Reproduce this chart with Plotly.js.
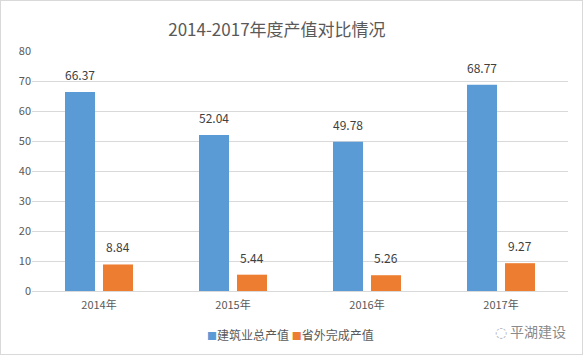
<!DOCTYPE html>
<html><head><meta charset="utf-8">
<script src="https://cdn.plot.ly/plotly-3.0.1.min.js"></script>
<style>html,body{margin:0;padding:0;background:#fff}#wrap{position:relative;width:583px;height:355px}#chart{width:583px;height:355px}#frame{position:absolute;left:0;top:0;width:581px;height:353px;border:1px solid #d9d9d9;pointer-events:none}</style>
</head><body><div id="wrap"><div id="chart"></div><div id="frame"></div></div>
<script>
const categories = ['2014年','2015年','2016年','2017年'];
const totalOutput = [66.37, 52.04, 49.78, 68.77];
const outsideOutput = [8.84, 5.44, 5.26, 9.27];
const seriesNames = ['建筑业总产值','省外完成产值'];
const seriesColors = ['#5B9BD5','#ED7D31'];
const yTicks = [0,10,20,30,40,50,60,70,80];

const font = '"Noto Sans CJK SC", "Microsoft YaHei", sans-serif';
const traces = [
  {type:'bar', name:seriesNames[0], x:categories, y:totalOutput, marker:{color:seriesColors[0]}, hoverinfo:'none'},
  {type:'bar', name:seriesNames[1], x:categories, y:outsideOutput, marker:{color:seriesColors[1]}, hoverinfo:'none'}
];
const annotations = [];
[totalOutput, outsideOutput].forEach((vals, si) => {
  vals.forEach((v, i) => {
    annotations.push({x:categories[i], y:v, xref:'x', yref:'y', text:v.toFixed(2), showarrow:false,
      xshift: si===0 ? -19 : 19, yanchor:'bottom', yshift:7, font:{family:font, size:12, color:'#404040'}});
  });
});
// legend drawn as text entries
const legendText = seriesNames.map((n, i) => '<span style="color:' + seriesColors[i] + ';font-size:10px">■</span>' + n).join(' ');
annotations.push({xref:'paper', yref:'paper', x:0.322, y:-0.183, xanchor:'left', yanchor:'middle', showarrow:false,
  text:legendText, font:{family:font, size:12, color:'#595959'}});
annotations.push({xref:'paper', yref:'paper', x:1.0, y:-0.165, xanchor:'right', yanchor:'middle', showarrow:false,
  text:'平湖建设', font:{family:font, size:14, color:'#8a8a8a'}});
annotations.push({xref:'paper', yref:'paper', x:0.875, y:-0.17, xanchor:'center', yanchor:'middle', showarrow:false,
  text:'◌', font:{family:'DejaVu Sans', size:14, color:'#b0b0b0'}});
const layout = {
  width:583, height:355,
  margin:{l:32, r:15, t:51, b:64},
  paper_bgcolor:'#fff', plot_bgcolor:'#fff',
  title:{text:'2014-2017年度产值对比情况', x:0.475, xanchor:'center', y:0.915, yanchor:'middle', font:{family:font, size:17, color:'#595959'}},
  barmode:'group', bargap:0.433, bargroupgap:0.21,
  showlegend:false,
  xaxis:{type:'category', showgrid:false, showline:false, ticks:'', ticklabelstandoff:6, tickfont:{family:font, size:11, color:'#595959'}, automargin:false},
  yaxis:{range:[0,80], tickvals:yTicks, showgrid:true, gridcolor:'#d9d9d9', gridwidth:1, zeroline:true, zerolinecolor:'#d9d9d9', showline:false, ticks:'', ticklen:0, tickfont:{family:font, size:11, color:'#595959'}, automargin:false},
  annotations: annotations
};
Plotly.newPlot('chart', traces, layout, {staticPlot:true, displayModeBar:false});
</script></body></html>
